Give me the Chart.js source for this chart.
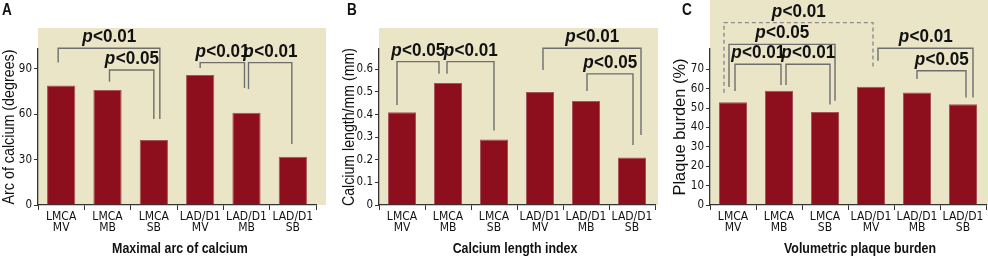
<!DOCTYPE html>
<html>
<head>
<meta charset="utf-8">
<script src="https://cdn.jsdelivr.net/npm/chart.js@4.4.1/dist/chart.umd.min.js"></script>
<style>
    body { margin: 0; background: #fff; width: 988px; height: 257px; overflow: hidden; position: relative; }
    canvas { position: absolute; top: 0; }
</style>
</head>
<body>
<canvas id="graficoA" width="329" height="257" style="left:0px"></canvas>
<canvas id="graficoB" width="329" height="257" style="left:329px"></canvas>
<canvas id="graficoC" width="330" height="257" style="left:658px"></canvas>
<script>
const categories = [
    ["LMCA", "MV"],
    ["LMCA", "MB"],
    ["LMCA", "SB"],
    ["LAD/D1", "MV"],
    ["LAD/D1", "MB"],
    ["LAD/D1", "SB"]
];

const arcValues = [79, 76, 43, 86, 61, 32];
const lengthValues = [0.41, 0.54, 0.29, 0.50, 0.46, 0.21];
const burdenValues = [53, 59, 48, 61, 58, 52];

const arcTicks = [0, 30, 60, 90];
const lengthTicks = [0, 0.1, 0.2, 0.3, 0.4, 0.5, 0.6];
const burdenTicks = [0, 10, 20, 30, 40, 50, 60, 70];

// p-value brackets: bars compared, bracket level and leg ends (in axis units)
const arcBrackets = [
    { from: 0, to: 2, top: 103.7, ends: [94.2, 56.9], p: "0.01" },
    { from: 1, to: 2, top: 89.3, ends: [81.6, 56.9], p: "0.05" },
    { from: 3, to: 4, top: 94.2, ends: [90.7, 77.4], p: "0.01" },
    { from: 4, to: 5, top: 94.2, ends: [76.8, 40.4], p: "0.01" }
];
const lengthBrackets = [
    { from: 0, to: 1, top: 0.634, ends: [0.442, 0.580], p: "0.05" },
    { from: 1, to: 2, top: 0.634, ends: [0.580, 0.329], p: "0.01" },
    { from: 3, to: 5, top: 0.693, ends: [0.597, 0.310], p: "0.01" },
    { from: 4, to: 5, top: 0.580, ends: [0.504, 0.265], p: "0.05" }
];
const burdenBrackets = [
    { from: 0, to: 3, top: 94.1, ends: [57.9, 70.0], p: "0.01", dashed: true },
    { from: 0, to: 2, top: 82.9, ends: [60.9, 53.8], p: "0.05" },
    { from: 0, to: 1, top: 72.6, ends: [58.8, 61.9], p: "0.01" },
    { from: 1, to: 2, top: 72.6, ends: [61.9, 51.9], p: "0.01" },
    { from: 3, to: 5, top: 80.9, ends: [74.5, 55.5], p: "0.01" },
    { from: 4, to: 5, top: 69.3, ends: [65.0, 55.5], p: "0.05" }
];

// small leg shifts (px) so the brackets don't sit on top of each other
const arcShift = [[-3, 6], [2, 0], [0, -2], [2, -1]];
const lengthShift = [[-5, -9], [-1, 0], [3, 9], [1, 1]];
const burdenShift = [[-9, 2], [-4, 10], [2, 2], [7, 5], [7, 10], [0, 3]];

const COND = "'DejaVu Sans Condensed', 'DejaVu Sans', sans-serif";
const SANS = "'Liberation Sans', Arial, sans-serif";
const BEIGE = "#ebe5c8";
const AXIS = "#333333";

function texto(ctx, str, x, y, font, sx, align, maxW) {
    ctx.save();
    ctx.translate(x, y);
    ctx.scale(sx, 1);
    ctx.font = font;
    ctx.textAlign = align;
    if (maxW) ctx.fillText(str, 0, 0, maxW / sx);
    else ctx.fillText(str, 0, 0);
    ctx.restore();
}

const painelPlugin = {
    id: "painel",
    beforeDraw(chart, args, opts) {
        const ctx = chart.ctx;
        const a = chart.chartArea;
        ctx.save();
        ctx.fillStyle = BEIGE;
        ctx.fillRect(a.left, opts.bgTop, opts.bgRight - a.left, a.bottom - opts.bgTop);
        ctx.restore();
    },
    afterDraw(chart, args, opts) {
        const ctx = chart.ctx;
        const x = chart.scales.x;
        const y = chart.scales.y;
        ctx.save();
        ctx.fillStyle = "#111";
        ctx.textBaseline = "alphabetic";

        // panel letter
        texto(ctx, opts.letter, opts.letterX, 15, "bold 16px " + SANS, 0.85, "left");

        // axis titles
        texto(ctx, opts.xTitle, opts.xTitleX, 253, "bold 15.5px " + SANS, 0.8, "center");

        ctx.save();
        ctx.translate(opts.yTitleX, 127);
        ctx.rotate(-Math.PI / 2);
        ctx.textBaseline = "middle";
        texto(ctx, opts.yTitle, 0, 0, "16.5px " + SANS, 1, "center", opts.yTitleW);
        ctx.restore();

        // brackets
        opts.brackets.forEach((b, i) => {
            const sh = opts.shifts[i];
            const x1 = x.getPixelForValue(b.from) + sh[0];
            const x2 = x.getPixelForValue(b.to) + sh[1];
            const yt = y.getPixelForValue(b.top);
            ctx.strokeStyle = b.dashed ? "#8c8c8c" : "#6e6e6e";
            ctx.lineWidth = 1.4;
            ctx.setLineDash(b.dashed ? [4, 3] : []);
            ctx.beginPath();
            ctx.moveTo(x1, y.getPixelForValue(b.ends[0]));
            ctx.lineTo(x1, yt);
            ctx.lineTo(x2, yt);
            ctx.lineTo(x2, y.getPixelForValue(b.ends[1]));
            ctx.stroke();
            ctx.setLineDash([]);

            const sx = 0.9;
            const fItal = "italic bold 19px " + SANS;
            const fBold = "bold 19px " + SANS;
            const rest = "<" + b.p;
            ctx.font = fItal;
            const wp = ctx.measureText("p").width;
            ctx.font = fBold;
            const wr = ctx.measureText(rest).width;
            const start = (x1 + x2) / 2 - (wp + wr) * sx / 2;
            ctx.save();
            ctx.translate(start, yt - 6);
            ctx.scale(sx, 1);
            ctx.textAlign = "left";
            ctx.font = fItal;
            ctx.fillText("p", 0, 0);
            ctx.font = fBold;
            ctx.fillText(rest, wp + 0.5, 0);
            ctx.restore();
        });
        ctx.restore();
    }
};

function criarPainel(id, values, ticks, maxY, leftW, padRight, painel) {
    return new Chart(document.getElementById(id), {
        type: "bar",

        data: {
            labels: categories,

            datasets: [{
                data: values,
                backgroundColor: "#8d0f1e",
                borderColor: "#a8525a",
                borderWidth: 1,
                borderSkipped: "bottom",
                barPercentage: 0.61,
                categoryPercentage: 1
            }]
        },

        options: {
            responsive: false,
            animation: false,
            devicePixelRatio: 1,
            layout: {
                padding: { left: 0, top: 49, right: padRight, bottom: 0 }
            },
            plugins: {
                legend: { display: false },
                tooltip: { enabled: false },
                painel: painel
            },

            scales: {
                x: {
                    afterFit(scale) { scale.height = 52; },
                    border: { display: true, color: AXIS, width: 1.3 },
                    grid: {
                        display: true,
                        drawOnChartArea: false,
                        drawTicks: true,
                        tickLength: 5,
                        color: AXIS,
                        offset: true
                    },
                    ticks: {
                        color: "#111",
                        padding: 1,
                        maxRotation: 0,
                        font: { family: COND, size: 12, lineHeight: 0.92 }
                    }
                },

                y: {
                    min: 0,
                    max: maxY,
                    afterFit(scale) { scale.width = leftW; },
                    afterBuildTicks(scale) {
                        scale.ticks = ticks.map(v => ({ value: v }));
                    },
                    border: { display: true, color: AXIS, width: 1.3 },
                    grid: {
                        display: true,
                        drawOnChartArea: false,
                        drawTicks: true,
                        tickLength: 4,
                        color: AXIS
                    },
                    ticks: {
                        color: "#111",
                        padding: 2,
                        font: { family: COND, size: 11.5 }
                    }
                }
            }
        },
        plugins: [painelPlugin]
    });
}

criarPainel("graficoA", arcValues, arcTicks, 103.2, 38, 13, {
    bgTop: 28, bgRight: 326, letter: "A", letterX: 2,
    xTitle: "Maximal arc of calcium", xTitleX: 180,
    yTitle: "Arc of calcium (degrees)", yTitleX: 9, yTitleW: 155,
    brackets: arcBrackets, shifts: arcShift
});

criarPainel("graficoB", lengthValues, lengthTicks, 0.69, 50, 3, {
    bgTop: 28, bgRight: 329, letter: "B", letterX: 18,
    xTitle: "Calcium length index", xTitleX: 186,
    yTitle: "Calcium length/mm (mm)", yTitleX: 20, yTitleW: 158,
    brackets: lengthBrackets, shifts: lengthShift
});

criarPainel("graficoC", burdenValues, burdenTicks, 80.5, 52, 2, {
    bgTop: 0, bgRight: 330, letter: "C", letterX: 24,
    xTitle: "Volumetric plaque burden", xTitleX: 202,
    yTitle: "Plaque burden (%)", yTitleX: 22, yTitleW: 137,
    brackets: burdenBrackets, shifts: burdenShift
});
</script>
</body>
</html>
